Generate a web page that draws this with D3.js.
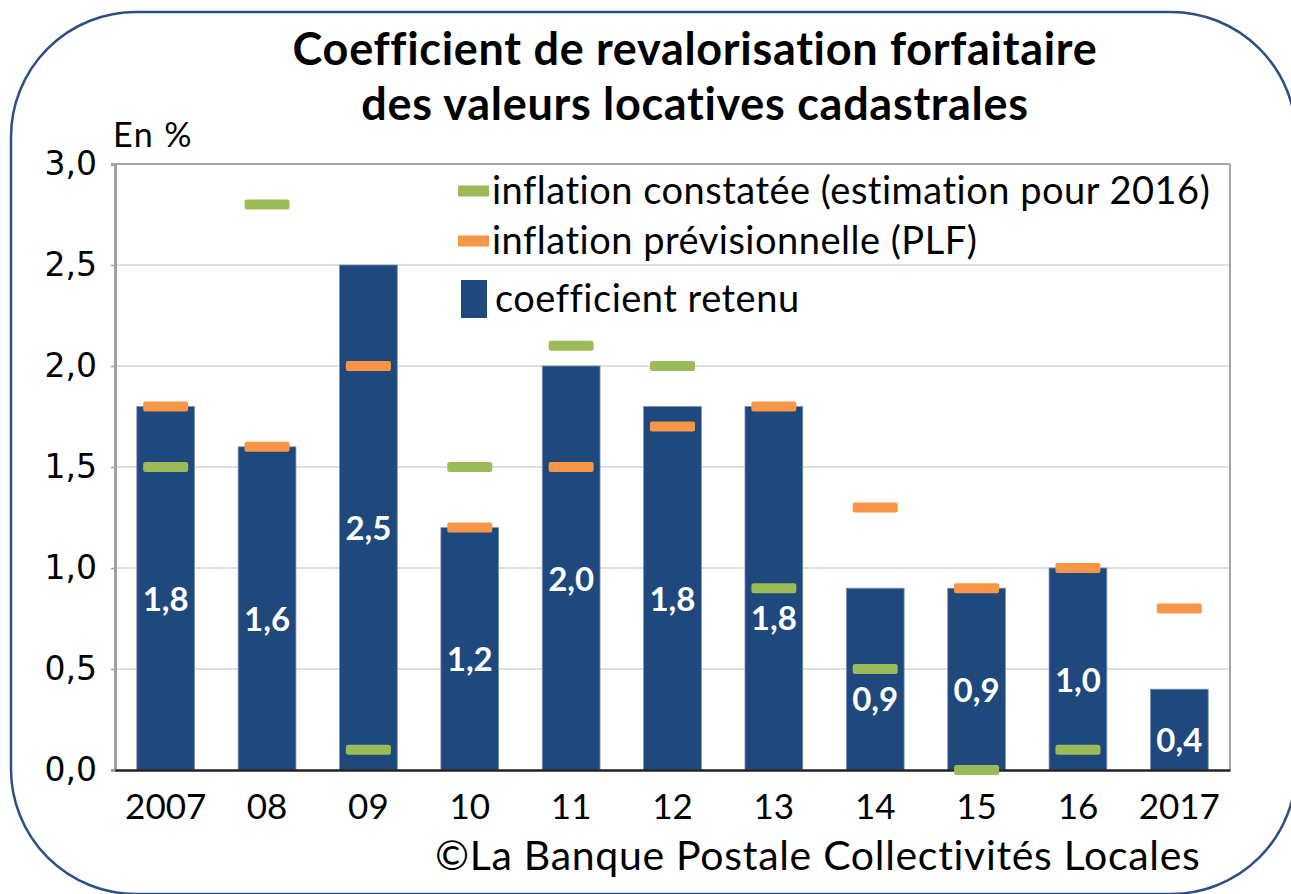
<!DOCTYPE html>
<html>
<head>
<meta charset="utf-8">
<script src="https://cdn.jsdelivr.net/npm/d3@7/dist/d3.min.js"></script>
<style>
  body { margin: 0; background: #fff; }
  svg { display: block; }
</style>
</head>
<body>
<div id="chart"></div>
<script>
// values
const years = ["2007", "08", "09", "10", "11", "12", "13", "14", "15", "16", "2017"];
const coefRetenu = [1.8, 1.6, 2.5, 1.2, 2.0, 1.8, 1.8, 0.9, 0.9, 1.0, 0.4];
const inflConstatee = [1.5, 2.8, 0.1, 1.5, 2.1, 2.0, 0.9, 0.5, 0.0, 0.1, null];
const inflPrevision = [1.8, 1.6, 2.0, 1.2, 1.5, 1.7, 1.8, 1.3, 0.9, 1.0, 0.8];
const yTicks = [0, 0.5, 1, 1.5, 2, 2.5, 3];
const legendLabels = [
  "inflation  constatée (estimation pour 2016)",
  "inflation prévisionnelle (PLF)",
  "coefficient retenu"
];

const W = 1291, H = 894;
const margin = { top: 164, left: 115, right: 61, bottom: 124 };
const width = W - margin.left - margin.right,
      height = H - margin.top - margin.bottom;

const navy = "#1f497d", green = "#9bbb59", orange = "#f79646";
const calibri = "Lato, 'Open Sans', sans-serif";
const fmt = v => d3.format(".1f")(v).replace(".", ",");

const data = years.map((y, i) => ({
  year: y, coef: coefRetenu[i], obs: inflConstatee[i], plf: inflPrevision[i]
}));

const svg = d3.select("#chart").append("svg")
    .attr("width", W)
    .attr("height", H);

// rounded frame
svg.append("rect")
    .attr("x", 11).attr("y", 12)
    .attr("width", 1285).attr("height", 882)
    .attr("rx", 125).attr("ry", 125)
    .attr("fill", "none")
    .attr("stroke", "#2c5084")
    .attr("stroke-width", 2.5);

// title
const title = svg.append("text")
    .attr("text-anchor", "middle")
    .attr("font-family", calibri)
    .attr("font-weight", "bold")
    .attr("font-size", 45)
    .attr("letter-spacing", 0.7)
    .attr("fill", "#000");
title.append("tspan").attr("x", 695).attr("y", 65).text("Coefficient de revalorisation forfaitaire");
title.append("tspan").attr("x", 695).attr("y", 120).text("des valeurs locatives cadastrales");

svg.append("text")
    .attr("x", 113).attr("y", 147)
    .attr("font-family", calibri)
    .attr("font-size", 34)
    .attr("letter-spacing", 1.5)
    .text("En %");

const g = svg.append("g")
    .attr("transform", "translate(" + margin.left + "," + margin.top + ")");

const xScale = d3.scaleBand()
    .domain(years)
    .range([0, width])
    .paddingInner(0.43)
    .paddingOuter(0.215);

const yScale = d3.scaleLinear()
    .domain([0, 3])
    .range([height, 0]);

// grid
g.append("g")
  .selectAll("line")
  .data(yTicks.filter(t => t > 0))
  .enter().append("line")
    .attr("x1", 0).attr("x2", width)
    .attr("y1", d => yScale(d)).attr("y2", d => yScale(d))
    .attr("stroke", d => d === 3 ? "#a6a6a6" : "#d4d4d4")
    .attr("stroke-width", d => d === 3 ? 2 : 1.5);

// right border of plot
g.append("line")
    .attr("x1", width).attr("x2", width)
    .attr("y1", 0).attr("y2", height)
    .attr("stroke", "#a6a6a6").attr("stroke-width", 2);

// y axis
const yAxis = g.append("g")
    .call(d3.axisLeft(yScale).tickValues(yTicks).tickFormat(fmt).tickSize(4).tickPadding(14));
yAxis.select(".domain").attr("stroke", "#a0a0a0").attr("stroke-width", 3);
yAxis.selectAll(".tick line").attr("stroke", "#a0a0a0").attr("stroke-width", 1.5);
yAxis.selectAll(".tick text")
    .attr("font-family", "'DejaVu Sans', Verdana, sans-serif")
    .attr("font-size", 33)
    .attr("fill", "#000");

// bars
g.append("g")
  .selectAll("rect")
  .data(data)
  .enter().append("rect")
    .attr("x", d => xScale(d.year))
    .attr("y", d => yScale(d.coef))
    .attr("width", xScale.bandwidth())
    .attr("height", d => yScale(0) - yScale(d.coef))
    .attr("fill", navy)
    .attr("stroke", "#7d93b5")
    .attr("stroke-width", 0.8);

// x axis
const xAxis = g.append("g")
    .attr("transform", "translate(0," + height + ")")
    .call(d3.axisBottom(xScale).tickSize(0).tickPadding(24));
xAxis.select(".domain").attr("stroke", "#222").attr("stroke-width", 2.5);
xAxis.selectAll(".tick text")
    .attr("font-family", calibri)
    .attr("font-size", 35)
    .attr("fill", "#000");

const markW = 45, markH = 10;

// orange markers
g.append("g")
  .selectAll("rect")
  .data(data.filter(d => d.plf != null))
  .enter().append("rect")
    .attr("x", d => xScale(d.year) + xScale.bandwidth() / 2 - markW / 2)
    .attr("y", d => yScale(d.plf) - markH / 2)
    .attr("width", markW).attr("height", markH)
    .attr("rx", 2)
    .attr("fill", orange);

// green markers
g.append("g")
  .selectAll("rect")
  .data(data.filter(d => d.obs != null))
  .enter().append("rect")
    .attr("x", d => xScale(d.year) + xScale.bandwidth() / 2 - markW / 2)
    .attr("y", d => yScale(d.obs) - markH / 2)
    .attr("width", markW).attr("height", markH)
    .attr("rx", 2.5)
    .attr("fill", green);

// value labels, pushed under a marker when they collide
let labelY = function(d) {
  let y = yScale(d.coef / 2) + 11;
  [d.obs, d.plf].forEach(m => {
    if (m == null) return;
    let my = yScale(m);
    if (Math.abs(my - y) < 22 && my < yScale(0) - 10) y = my + 30;
  });
  return y;
};

g.append("g")
  .selectAll("text")
  .data(data)
  .enter().append("text")
    .attr("x", d => xScale(d.year) + xScale.bandwidth() / 2)
    .attr("y", labelY)
    .attr("dy", "0.35em")
    .attr("text-anchor", "middle")
    .attr("font-family", calibri)
    .attr("font-weight", "bold")
    .attr("font-size", 33)
    .attr("fill", "#fff")
    .text(d => fmt(d.coef));

// legend
const legend = svg.append("g")
    .attr("font-family", calibri)
    .attr("font-size", 38)
    .attr("letter-spacing", 0.5)
    .style("white-space", "pre");
[
  { color: green, y: 191, sw: 31, sh: 11, sx: 458 },
  { color: orange, y: 241, sw: 31, sh: 11, sx: 458 },
  { color: navy, y: 299, sw: 26, sh: 38, sx: 461 }
].forEach((it, i) => {
  legend.append("rect")
      .attr("x", it.sx).attr("y", it.y - it.sh / 2)
      .attr("width", it.sw).attr("height", it.sh)
      .attr("fill", it.color);
  legend.append("text")
      .attr("x", i === 2 ? 495 : 492)
      .attr("y", it.y)
      .attr("dy", "0.35em")
      .attr("fill", "#000")
      .text(legendLabels[i]);
});

// source
svg.append("text")
    .attr("x", 435).attr("y", 870)
    .attr("font-family", calibri)
    .attr("font-size", 41)
    .attr("letter-spacing", 0.7)
    .attr("fill", "#000")
    .text("©La Banque Postale Collectivités Locales");
</script>
</body>
</html>
